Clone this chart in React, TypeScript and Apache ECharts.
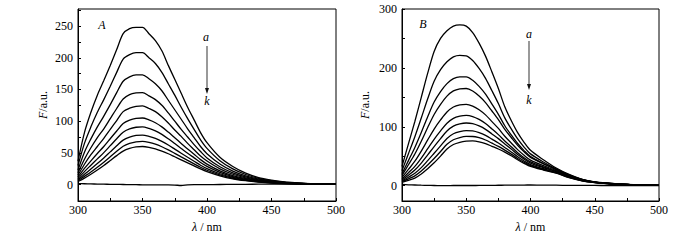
import React, { useEffect, useRef } from "react";
import * as echarts from "echarts";

const wavelengths = [300,305,310,315,320,325,330,335,340,345,350,355,360,365,370,375,380,385,390,395,400,410,420,430,440,450,460,470,480,490,500];

// Panel A spectra (a → k)
const A_a = [37,82,114,141,164,188,213,238,246,248,248,238,227,211,188,166,144,122,102,82,66,43,28.5,18,11,7,4.2,2.7,1.5,1,0.5];
const A_b = [30,65,91,114,134,155,177,198,205,208,208,200,191,177,159,141,122,104,87,70.5,57,37.6,24.7,15.8,9.8,6.1,3.7,2.4,1.3,0.8,0.4];
const A_c = [23,51,72,91,108,126,145,163,170,173,173,167,159,148,133,118,103,88,74,60,48.7,32.4,21.2,13.7,8.5,5.3,3.3,2.1,1.2,0.8,0.4];
const A_d = [18.4,40,58,74,88,104,120,135,142,144.5,145,140,134,125,113,100,87,75,63,52,42,28,18.4,11.9,7.5,4.6,2.8,1.8,1.1,0.7,0.3];
const A_e = [14.8,32,47,60,73,87,101,115,120.5,123.5,124,120,115,107,97,86,76,65,55,45,37,24.7,16.2,10.5,6.7,4.1,2.5,1.6,1,0.6,0.3];
const A_f = [11.7,25.4,37.3,48.9,60,72.3,84.5,96.2,101.6,104.4,105,102,97.5,91,82.7,73.8,64.9,56,47.7,39.3,32.2,21.5,14.1,9.2,5.9,3.6,2.2,1.4,0.9,0.5,0.3];
const A_g = [9.4,20.4,30.5,40.5,50.4,61.3,72.3,82.5,87.7,90.4,91,88.6,84.8,79.2,72.2,64.6,57,49.4,42.1,34.8,28.6,19.2,12.6,8.3,5.3,3.3,2,1.2,0.8,0.5,0.2];
const A_h = [7.5,16.1,24.5,33,41.9,51.5,61.1,70.1,74.8,77.4,78,76.1,72.9,68.1,62.3,55.9,49.4,43,36.8,30.5,25.2,17,11.1,7.3,4.7,2.9,1.8,1.1,0.7,0.4,0.2];
const A_i = [6,12.9,19.9,27.4,35.3,43.9,52.5,60.5,64.9,67.4,68,66.5,63.7,59.6,54.7,49.2,43.6,38.1,32.7,27.2,22.5,15.2,9.9,6.6,4.3,2.6,1.6,1,0.6,0.4,0.2];
const A_j = [4.8,10.2,16.2,22.8,30,37.8,45.6,52.8,57,59.4,60,58.8,56.4,52.8,48.6,43.8,39,34.2,29.4,24.6,20.4,13.8,9,6,3.9,2.4,1.5,0.9,0.6,0.4,0.2];
const A_k = [1.5,1.2,0.9,0.7,0.5,0.3,0.2,0,-0.2,-0.3,-0.4,-0.5,-0.5,-0.6,-0.6,-0.8,-1.5,-0.6,-0.3,-0.3,-0.2,0,0.2,0.3,0.5,0.6,0.7,0.6,0.5,0.4,0.3];

// Panel B spectra (a → k)
const B_a = [32.8,71,109,150,191,228,250,263,271,273,271,260,242,220,193,165,134,110.6,90,73.7,60,44,30,19.1,10.9,6,4.1,2.5,1.5,1,0.5];
const B_b = [25.6,54.3,83.2,115,147.6,177.4,196.9,210.3,218.7,221.3,220.5,212.5,199,182.2,161.2,139.4,115.1,96.4,79.4,65.6,54,40.3,28.6,18.2,10.6,6.1,4.1,2.5,1.5,1,0.5];
const B_c = [20.5,42.6,65,90.4,117.1,142,159.8,173.3,181.7,184.8,184.8,179,168.6,155.4,138.6,121.2,101.8,86.2,71.6,59.6,49.5,37.7,27.4,17.5,10.3,6.1,4,2.5,1.5,1,0.5];
const B_d = [17.5,35.5,53.8,75.4,98.7,120.8,137.9,152,160.9,164.4,165,160.7,152.2,141.1,126.8,112.1,95.6,81.8,68.5,57.4,48,37.1,27.6,17.6,10.5,6.3,4.1,2.6,1.6,1.1,0.5];
const B_e = [14,27.6,41.5,58.7,77.7,96.2,111.6,125.1,133.6,137.2,138.2,135.2,128.9,120.2,108.8,97.2,84,72.5,61.2,51.6,43.4,33.9,25.7,16.5,9.8,6,3.9,2.5,1.5,1,0.5];
const B_f = [11.5,22,32.8,46.9,62.9,78.8,93,106.1,114.4,118,119.3,117.4,112.5,105.6,96.3,86.7,76,66.1,56.1,47.6,40.3,31.8,24.4,15.7,9.4,5.8,3.8,2.5,1.5,1,0.5];
const B_g = [9.7,17.9,26.6,38.4,52.3,66.4,79.9,92.9,101.1,104.9,106.4,105.3,101.4,95.7,87.9,79.9,70.8,62.1,53,45.1,38.4,30.6,23.8,15.3,9.2,5.7,3.7,2.5,1.5,1,0.5];
const B_h = [8.1,14.3,21,30.7,42.6,55,67.5,80.2,88.1,91.8,93.5,93,90.1,85.5,79,72.4,64.9,57.3,49.1,42,35.9,28.8,22.6,14.5,8.8,5.5,3.6,2.4,1.4,0.9,0.5];
const B_i = [6.8,11.5,16.6,24.8,35.1,46.1,58,70.3,78,81.8,83.6,83.5,81.4,77.6,72.2,66.7,60.4,53.6,46.2,39.7,34,27.5,21.8,14,8.5,5.4,3.5,2.3,1.4,0.9,0.5];
const B_j = [5.8,9.1,12.9,19.8,28.9,38.8,50.2,62.3,69.9,73.7,75.6,76,74.5,71.4,66.9,62.3,57,50.9,44.1,38,32.7,26.6,21.3,13.7,8.4,5.3,3.4,2.3,1.4,0.9,0.5];
const B_k = [2,1.5,1.2,0.8,0.5,0.3,0.2,0.2,0.3,0.3,0.3,0.3,0.4,0.5,0.6,0.7,0.8,0.9,1,1.1,1.2,1,0.8,0.6,0.5,0.4,0.3,0.2,0.1,0,0];

const panelA = [A_a, A_b, A_c, A_d, A_e, A_f, A_g, A_h, A_i, A_j, A_k];
const panelB = [B_a, B_b, B_c, B_d, B_e, B_f, B_g, B_h, B_i, B_j, B_k];

const xTicks = [300,325,350,375,400,425,450,475,500];
const xLabels = [300,350,400,450,500];
const yTicksA = [0,25,50,75,100,125,150,175,200,225,250,275];
const yLabelsA = [0,50,100,150,200,250];
const yTicksB = [0,50,100,150,200,250,300];
const yLabelsB = [0,100,200,300];

const FONT = "'Liberation Serif', 'Times New Roman', serif";

export default function App() {
  const ref = useRef<HTMLDivElement>(null);
  useEffect(() => {
    if (!ref.current) return;
    const chart = echarts.init(ref.current, null, { renderer: "svg" });
    const axisText = { color: "#000", fontFamily: FONT, fontSize: 12 };
    const mkX = (gridIndex: number) => ({
      type: "value", gridIndex, min: 300, max: 500,
      axisLine: { show: true, onZero: false, lineStyle: { color: "#000", width: 1 } },
      axisTick: { show: true, inside: true, length: 3, customValues: xTicks, lineStyle: { color: "#000" } },
      axisLabel: { ...axisText, margin: 3, customValues: xLabels },
      splitLine: { show: false },
      name: "{i|λ} / nm", nameLocation: "middle", nameGap: 20,
      nameTextStyle: { ...axisText, rich: { i: { ...axisText, fontStyle: "italic" } } },
    });
    const mkY = (gridIndex: number, min: number, max: number, ticks: number[], labels: number[], gap: number) => ({
      type: "value", gridIndex, min, max,
      axisLine: { show: true, onZero: false, lineStyle: { color: "#000", width: 1 } },
      axisTick: { show: true, inside: true, length: 3, customValues: ticks, lineStyle: { color: "#000" } },
      axisLabel: { ...axisText, margin: 5, customValues: labels },
      splitLine: { show: false },
      name: "{i|F}/a.u.", nameLocation: "middle", nameGap: gap, nameRotate: 90,
      nameTextStyle: { ...axisText, rich: { i: { ...axisText, fontStyle: "italic" } } },
    });
    const mkSeries = (data: number[][], idx: number) =>
      data.map((vals) => ({
        type: "line", xAxisIndex: idx, yAxisIndex: idx, showSymbol: false, smooth: 0.3,
        lineStyle: { color: "#000", width: 1.3 },
        data: wavelengths.map((w, i) => [w, vals[i]]),
      }));
    const txt = (x: number, y: number, s: string, italic = true) => ({
      type: "text", x, y,
      style: { text: s, fill: "#000", fontFamily: FONT, fontSize: 12, fontStyle: italic ? "italic" : "normal", align: "center", verticalAlign: "middle" },
    });
    const arrow = (x: number, y1: number, y2: number) => [
      { type: "line", shape: { x1: x, y1, x2: x, y2: y2 - 4 }, style: { stroke: "#555", lineWidth: 1.2 } },
      { type: "polygon", shape: { points: [[x - 2, y2 - 6], [x + 2, y2 - 6], [x, y2]] }, style: { fill: "#111" } },
    ];
    chart.setOption({
      animation: false,
      grid: [
        { left: 78, top: 9, width: 258, height: 192, show: true, borderColor: "#000", borderWidth: 1 },
        { left: 402, top: 9, width: 257, height: 192, show: true, borderColor: "#000", borderWidth: 1 },
      ],
      xAxis: [mkX(0), mkX(1)],
      yAxis: [mkY(0, -26, 277, yTicksA, yLabelsA, 29), mkY(1, -26, 300, yTicksB, yLabelsB, 31)],
      series: [...mkSeries(panelA, 0), ...mkSeries(panelB, 1)],
      graphic: [
        txt(102, 25, "A"),
        txt(423, 24, "B"),
        txt(206, 37, "a"),
        txt(207, 101, "k"),
        ...arrow(207, 46, 94),
        txt(529, 34, "a"),
        txt(529, 100, "k"),
        ...arrow(529, 41, 90),
      ],
    });
    return () => chart.dispose();
  }, []);
  return <div ref={ref} style={{ position: "absolute", left: 0, top: 0, width: 700, height: 240 }} />;
}
